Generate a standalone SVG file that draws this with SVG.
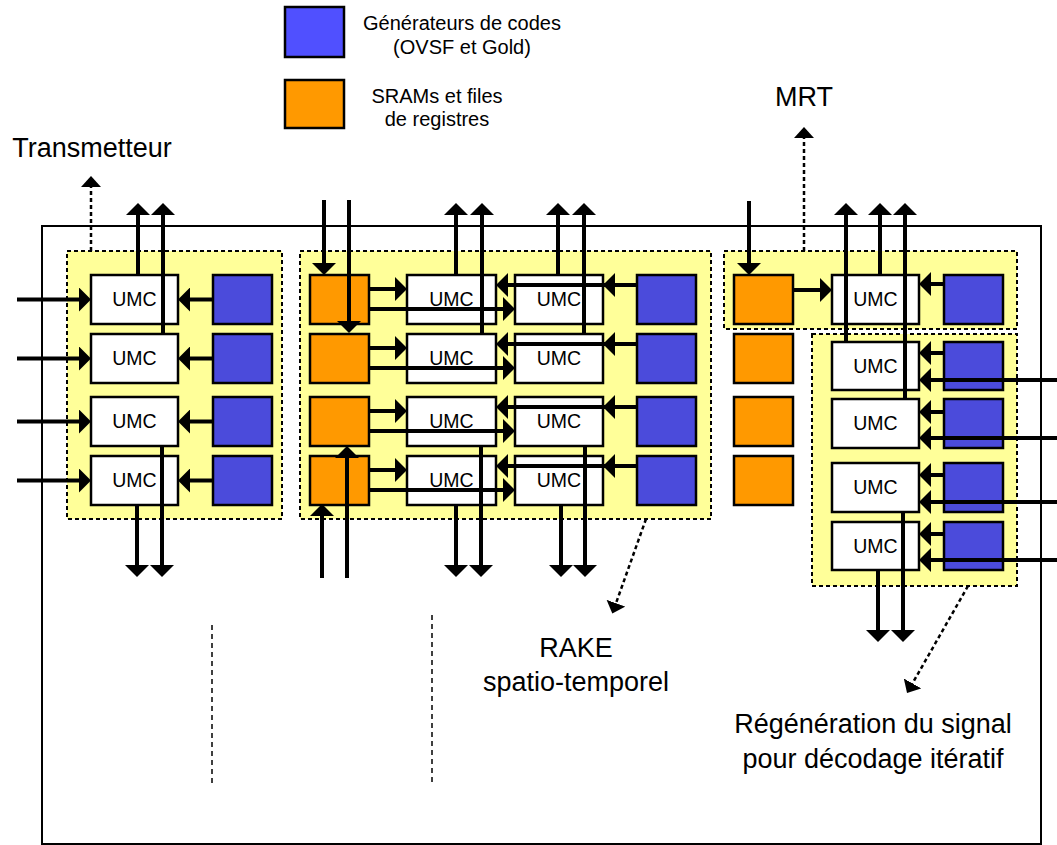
<svg xmlns="http://www.w3.org/2000/svg" width="1057" height="845" viewBox="0 0 1057 845">
<style>
.umc{fill:#fff;stroke:#000;stroke-width:2.5}
.gen{fill:#4b4bdb;stroke:#000;stroke-width:2.5}
.sram{fill:#ff9900;stroke:#000;stroke-width:2.5}
.zone{fill:#ffff99;stroke:#000;stroke-width:2;stroke-dasharray:4 3}
.t{font-family:"Liberation Sans",Arial,sans-serif;fill:#000;text-anchor:middle}
.u{font-size:19.5px}
.big{font-size:27px}
.leg{font-size:20px}
.a{stroke:#000;stroke-width:4;fill:none;marker-end:url(#ah)}
.d{stroke:#000;stroke-width:2.5;stroke-dasharray:4 3;fill:none;marker-end:url(#dh)}
.sep{stroke:#000;stroke-width:1.5;stroke-dasharray:5 4;fill:none}
</style>
<defs>
<marker id="ah" markerUnits="userSpaceOnUse" viewBox="0 0 12 24" refX="4" refY="12" markerWidth="12" markerHeight="24" orient="auto"><path d="M0,0 L12,12 L0,24 Z" fill="#000"/></marker>
<marker id="dh" markerUnits="userSpaceOnUse" viewBox="0 0 11 20" refX="3" refY="10" markerWidth="11" markerHeight="20" orient="auto"><path d="M0,0 L11,10 L0,20 Z" fill="#000"/></marker>
</defs>
<rect width="1057" height="845" fill="#fff"/>
<g id="frame"><rect x="42" y="226" width="999" height="618" fill="none" stroke="#000" stroke-width="2"/></g>
<g id="legend">
<rect x="285" y="7" width="59" height="50" fill="#5050ff" stroke="#000" stroke-width="2.5"/>
<text class="t leg" x="462" y="30">Générateurs de codes</text>
<text class="t leg" x="462" y="54">(OVSF et Gold)</text>
<rect x="285" y="80" width="59" height="48" fill="#ff9900" stroke="#000" stroke-width="2.5"/>
<text class="t leg" x="437" y="103">SRAMs et files</text>
<text class="t leg" x="437" y="126">de registres</text>
</g>
<g id="labels">
<text class="t big" x="92" y="157">Transmetteur</text>
<text class="t big" x="804" y="106">MRT</text>
<text class="t big" x="576" y="657">RAKE</text>
<text class="t big" x="576" y="691">spatio-temporel</text>
<text class="t big" x="873" y="733">Régénération du signal</text>
<text class="t big" x="873" y="768">pour décodage itératif</text>
</g>
<g id="transmetteur">
<rect class="zone" x="67" y="251" width="215" height="268"/>
<rect class="umc" x="91" y="275" width="87" height="49"/><text class="t u" x="134.5" y="306">UMC</text>
<rect class="umc" x="91" y="334" width="87" height="49"/><text class="t u" x="134.5" y="365">UMC</text>
<rect class="umc" x="91" y="397" width="87" height="49"/><text class="t u" x="134.5" y="428">UMC</text>
<rect class="umc" x="91" y="456" width="87" height="49"/><text class="t u" x="134.5" y="487">UMC</text>
<rect class="gen" x="213" y="275" width="59" height="49"/>
<rect class="gen" x="213" y="334" width="59" height="49"/>
<rect class="gen" x="213" y="397" width="59" height="49"/>
<rect class="gen" x="213" y="456" width="59" height="49"/>
</g>
<g id="rake">
<rect class="zone" x="300" y="251" width="411" height="268"/>
<rect class="sram" x="310" y="275" width="59" height="49"/>
<rect class="sram" x="310" y="334" width="59" height="49"/>
<rect class="sram" x="310" y="397" width="59" height="49"/>
<rect class="sram" x="310" y="456" width="59" height="49"/>
<rect class="umc" x="407" y="275" width="89" height="49"/><text class="t u" x="451.5" y="306">UMC</text>
<rect class="umc" x="407" y="334" width="89" height="49"/><text class="t u" x="451.5" y="365">UMC</text>
<rect class="umc" x="407" y="397" width="89" height="49"/><text class="t u" x="451.5" y="428">UMC</text>
<rect class="umc" x="407" y="456" width="89" height="49"/><text class="t u" x="451.5" y="487">UMC</text>
<rect class="umc" x="515" y="275" width="88" height="49"/><text class="t u" x="559" y="306">UMC</text>
<rect class="umc" x="515" y="334" width="88" height="49"/><text class="t u" x="559" y="365">UMC</text>
<rect class="umc" x="515" y="397" width="88" height="49"/><text class="t u" x="559" y="428">UMC</text>
<rect class="umc" x="515" y="456" width="88" height="49"/><text class="t u" x="559" y="487">UMC</text>
<rect class="gen" x="637" y="275" width="59" height="49"/>
<rect class="gen" x="637" y="334" width="59" height="49"/>
<rect class="gen" x="637" y="397" width="59" height="49"/>
<rect class="gen" x="637" y="456" width="59" height="49"/>
</g>
<g id="mrt">
<rect class="zone" x="724" y="251" width="293" height="78"/>
<rect class="sram" x="734" y="275" width="59" height="49"/>
<rect class="umc" x="832" y="275" width="87" height="49"/><text class="t u" x="875.5" y="306">UMC</text>
<rect class="gen" x="944" y="275" width="59" height="49"/>
</g>
<g id="srams">
<rect class="sram" x="734" y="334" width="59" height="49"/>
<rect class="sram" x="734" y="397" width="59" height="49"/>
<rect class="sram" x="734" y="456" width="59" height="49"/>
</g>
<g id="regeneration">
<rect class="zone" x="812" y="334" width="205" height="252"/>
<rect class="umc" x="832" y="342" width="87" height="48"/><text class="t u" x="875.5" y="373">UMC</text>
<rect class="umc" x="832" y="399" width="87" height="49"/><text class="t u" x="875.5" y="430">UMC</text>
<rect class="umc" x="832" y="463" width="87" height="49"/><text class="t u" x="875.5" y="494">UMC</text>
<rect class="umc" x="832" y="522" width="87" height="48"/><text class="t u" x="875.5" y="553">UMC</text>
<rect class="gen" x="944" y="342" width="59" height="48"/>
<rect class="gen" x="944" y="399" width="59" height="49"/>
<rect class="gen" x="944" y="463" width="59" height="49"/>
<rect class="gen" x="944" y="522" width="59" height="48"/>
</g>
<g id="separators">
<line class="sep" x1="212" y1="625" x2="212" y2="786"/>
<line class="sep" x1="432" y1="615" x2="432" y2="783"/>
</g>
<g id="connectors">
<line class="a" x1="17" y1="299.5" x2="83" y2="299.5"/>
<line class="a" x1="17" y1="358.5" x2="83" y2="358.5"/>
<line class="a" x1="17" y1="421.5" x2="83" y2="421.5"/>
<line class="a" x1="17" y1="480.5" x2="83" y2="480.5"/>
<line class="a" x1="213" y1="299.5" x2="186" y2="299.5"/>
<line class="a" x1="213" y1="358.5" x2="186" y2="358.5"/>
<line class="a" x1="213" y1="421.5" x2="186" y2="421.5"/>
<line class="a" x1="213" y1="480.5" x2="186" y2="480.5"/>
<line class="a" x1="138" y1="275" x2="138" y2="211"/>
<line class="a" x1="163" y1="334" x2="163" y2="211"/>
<line class="a" x1="137" y1="505" x2="137" y2="569"/>
<line class="a" x1="162" y1="446" x2="162" y2="569"/>
<line class="d" x1="91" y1="251" x2="91" y2="184"/>
<line class="a" x1="369" y1="289" x2="399" y2="289"/>
<line class="a" x1="369" y1="348" x2="399" y2="348"/>
<line class="a" x1="369" y1="411" x2="399" y2="411"/>
<line class="a" x1="369" y1="470" x2="399" y2="470"/>
<line class="a" x1="369" y1="309" x2="507" y2="309"/>
<line class="a" x1="369" y1="368" x2="507" y2="368"/>
<line class="a" x1="369" y1="431" x2="507" y2="431"/>
<line class="a" x1="369" y1="490" x2="507" y2="490"/>
<line class="a" x1="637" y1="285" x2="504" y2="285"/>
<line class="a" x1="637" y1="344" x2="504" y2="344"/>
<line class="a" x1="637" y1="407" x2="504" y2="407"/>
<line class="a" x1="637" y1="466" x2="504" y2="466"/>
<line class="a" x1="637" y1="285" x2="611" y2="285"/>
<line class="a" x1="637" y1="344" x2="611" y2="344"/>
<line class="a" x1="637" y1="407" x2="611" y2="407"/>
<line class="a" x1="637" y1="466" x2="611" y2="466"/>
<line class="a" x1="324" y1="200" x2="324" y2="267"/>
<line class="a" x1="349" y1="200" x2="349" y2="325"/>
<line class="a" x1="322" y1="578" x2="322" y2="512"/>
<line class="a" x1="347" y1="578" x2="347" y2="454"/>
<line class="a" x1="456" y1="275" x2="456" y2="211"/>
<line class="a" x1="482" y1="334" x2="482" y2="211"/>
<line class="a" x1="558" y1="275" x2="558" y2="211"/>
<line class="a" x1="584" y1="334" x2="584" y2="211"/>
<line class="a" x1="456" y1="505" x2="456" y2="569"/>
<line class="a" x1="481" y1="446" x2="481" y2="569"/>
<line class="a" x1="561" y1="505" x2="561" y2="569"/>
<line class="a" x1="585" y1="446" x2="585" y2="569"/>
<line class="d" x1="646" y1="519" x2="615" y2="606"/>
<line class="a" x1="793" y1="290" x2="824" y2="290"/>
<line class="a" x1="944" y1="284" x2="927" y2="284"/>
<line class="a" x1="749" y1="201" x2="749" y2="267"/>
<line class="a" x1="846" y1="342" x2="846" y2="211"/>
<line class="a" x1="880" y1="275" x2="880" y2="211"/>
<line class="a" x1="905" y1="399" x2="905" y2="211"/>
<line class="d" x1="804" y1="251" x2="804" y2="135"/>
<line class="a" x1="944" y1="353" x2="927" y2="353"/>
<line class="a" x1="944" y1="412" x2="927" y2="412"/>
<line class="a" x1="944" y1="475" x2="927" y2="475"/>
<line class="a" x1="944" y1="534" x2="927" y2="534"/>
<line class="a" x1="1057" y1="380" x2="927" y2="380"/>
<line class="a" x1="1057" y1="438" x2="927" y2="438"/>
<line class="a" x1="1057" y1="502" x2="927" y2="502"/>
<line class="a" x1="1057" y1="560" x2="927" y2="560"/>
<line class="a" x1="878" y1="570" x2="878" y2="634"/>
<line class="a" x1="903" y1="512" x2="903" y2="634"/>
<line class="d" x1="968" y1="586" x2="911" y2="686"/>
</g>
</svg>
